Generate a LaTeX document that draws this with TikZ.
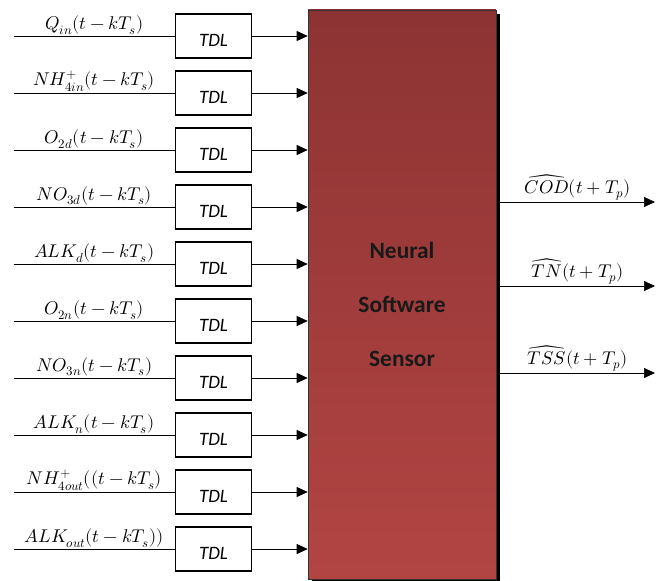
\documentclass[tikz,border=0pt]{standalone}
\usepackage{fontspec}
\usepackage{unicode-math}
\setmathfont{Latin Modern Math}
\setsansfont{Carlito}
\usetikzlibrary{arrows.meta, positioning, shadows}
\definecolor{nsstop}{RGB}{141, 51, 51}
\definecolor{nssbottom}{RGB}{178, 69, 67}

\begin{document}
\begin{tikzpicture}[
            x=1bp, y=1bp,
            node distance=11.4bp and 10bp,
            tdl/.style={rectangle, draw, line width=1.6bp, minimum width=76bp, minimum height=44bp, font=\sffamily\itshape\fontsize{19}{22}\selectfont, text height=21bp, text depth=0pt},
            nss/.style={rectangle, draw=black!80, line width=0.6bp, top color=nsstop, bottom color=nssbottom, minimum width=188bp, minimum height=569bp, drop shadow={shadow xshift=4bp, shadow yshift=-4bp, fill=black, opacity=1}},
            nsslabel/.style={font=\sffamily\bfseries\fontsize{23.5}{54}\selectfont, align=center, text=black!90},
            sig/.style={font=\fontsize{18.5}{20}\selectfont, inner sep=1.5bp},
            wire/.style={line width=0.7bp},
            arrow/.style={-{Triangle[length=11bp, width=10bp]}, line width=0.7bp}
        ]
            \useasboundingbox (0,0) rectangle (668,-581);

            % Nodes
            \node[nss] (nss) at (402,-294.5) {};
            \node[nsslabel] at ([yshift=-10bp]nss.center) {Neural\\Software\\Sensor};

            \node[tdl] (tdl1) at (213.5,-36) {TDL};
            \node[tdl, below=of tdl1] (tdl2) {TDL};
            \node[tdl, below=of tdl2] (tdl3) {TDL};
            \node[tdl, below=of tdl3] (tdl4) {TDL};
            \node[tdl, below=of tdl4] (tdl5) {TDL};
            \node[tdl, below=of tdl5] (tdl6) {TDL};
            \node[tdl, below=of tdl6] (tdl7) {TDL};
            \node[tdl, below=of tdl7] (tdl8) {TDL};
            \node[tdl, below=of tdl8] (tdl9) {TDL};
            \node[tdl, below=of tdl9] (tdl10) {TDL};

            \coordinate[left=161bp of tdl1.west] (in1);
            \coordinate[left=161bp of tdl2.west] (in2);
            \coordinate[left=161bp of tdl3.west] (in3);
            \coordinate[left=161bp of tdl4.west] (in4);
            \coordinate[left=161bp of tdl5.west] (in5);
            \coordinate[left=161bp of tdl6.west] (in6);
            \coordinate[left=161bp of tdl7.west] (in7);
            \coordinate[left=161bp of tdl8.west] (in8);
            \coordinate[left=161bp of tdl9.west] (in9);
            \coordinate[left=161bp of tdl10.west] (in10);

            \coordinate (cod) at (655,-202);
            \coordinate (tn) at (655,-286);
            \coordinate (tss) at (655,-373);

            % Inputs
            \draw[wire] (in1) -- node[sig, above] {$Q_{in}(t-kT_s)$} (tdl1);
            \draw[wire] (in2) -- node[sig, above] {$NH_{4in}^{+}(t-kT_s)$} (tdl2);
            \draw[wire] (in3) -- node[sig, above] {$O_{2d}(t-kT_s)$} (tdl3);
            \draw[wire] (in4) -- node[sig, above] {$NO_{3d}(t-kT_s)$} (tdl4);
            \draw[wire] (in5) -- node[sig, above] {$ALK_d(t-kT_s)$} (tdl5);
            \draw[wire] (in6) -- node[sig, above] {$O_{2n}(t-kT_s)$} (tdl6);
            \draw[wire] (in7) -- node[sig, above] {$NO_{3n}(t-kT_s)$} (tdl7);
            \draw[wire] (in8) -- node[sig, above] {$ALK_n(t-kT_s)$} (tdl8);
            \draw[wire] (in9) -- node[sig, above] {$NH_{4out}^{+}((t-kT_s)$} (tdl9);
            \draw[wire] (in10) -- node[sig, above] {$ALK_{out}(t-kT_s))$} (tdl10);

            % Arrows into the sensor
            \draw[arrow] (tdl1) -- (tdl1 -| nss.west);
            \draw[arrow] (tdl2) -- (tdl2 -| nss.west);
            \draw[arrow] (tdl3) -- (tdl3 -| nss.west);
            \draw[arrow] (tdl4) -- (tdl4 -| nss.west);
            \draw[arrow] (tdl5) -- (tdl5 -| nss.west);
            \draw[arrow] (tdl6) -- (tdl6 -| nss.west);
            \draw[arrow] (tdl7) -- (tdl7 -| nss.west);
            \draw[arrow] (tdl8) -- (tdl8 -| nss.west);
            \draw[arrow] (tdl9) -- (tdl9 -| nss.west);
            \draw[arrow] (tdl10) -- (tdl10 -| nss.west);

            % Outputs
            \draw[arrow] ([xshift=4bp]cod -| nss.east) -- node[sig, above] {$\widehat{COD}(t+T_p)$} (cod);
            \draw[arrow] ([xshift=4bp]tn -| nss.east) -- node[sig, above] {$\widehat{TN}(t+T_p)$} (tn);
            \draw[arrow] ([xshift=4bp]tss -| nss.east) -- node[sig, above] {$\widehat{TSS}(t+T_p)$} (tss);
        \end{tikzpicture}
\end{document}
